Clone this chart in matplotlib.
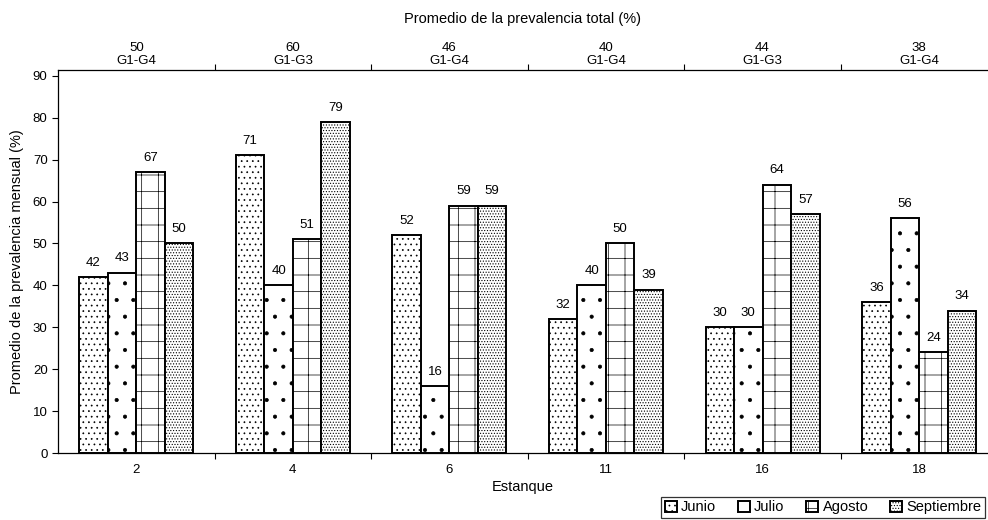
import matplotlib
matplotlib.use("Agg")
import matplotlib.pyplot as plt
import numpy as np

plt.rcParams['font.family'] = ['Liberation Sans', 'DejaVu Sans']
plt.rcParams['hatch.linewidth'] = 0.5

estanques = ['2', '4', '6', '11', '16', '18']
meses = ['Junio', 'Julio', 'Agosto', 'Septiembre']
junio = [42, 71, 52, 32, 30, 36]
julio = [43, 40, 16, 40, 30, 56]
agosto = [67, 51, 59, 50, 64, 24]
septiembre = [50, 79, 59, 39, 57, 34]
total = ['50', '60', '46', '40', '44', '38']
grupos = ['G1-G4', 'G1-G3', 'G1-G4', 'G1-G4', 'G1-G3', 'G1-G4']

series = [junio, julio, agosto, septiembre]
hatches = ['...', '.', '+', '......']

fig = plt.figure(figsize=(9.88, 5.2), dpi=100)
ax = fig.add_axes([58/988, 67/520, 930/988, 383/520])

x = np.arange(len(estanques))
w = 0.182
for i, (vals, h) in enumerate(zip(series, hatches)):
    pos = x + (i - 1.5) * w
    ax.bar(pos, vals, width=w, facecolor='white', edgecolor='black',
           linewidth=1.4, hatch=h, label=meses[i])
    for p, v in zip(pos, vals):
        ax.annotate(str(v), (p, v), xytext=(0, 6), textcoords='offset points',
                    ha='center', va='bottom', fontsize=9.5)

ax.set_xlim(-0.5, 5.44)
ax.set_ylim(0, 91.4)
ax.set_yticks(np.arange(0, 91, 10))
ax.tick_params(axis='y', labelsize=9.5, length=4, width=0.8)
ax.set_xticks(np.arange(0.5, 5.5, 1))
ax.set_xticklabels([])
ax.set_xticks(x, minor=True)
ax.set_xticklabels(estanques, minor=True, fontsize=9.5)
ax.tick_params(axis='x', which='minor', length=0, pad=8)
ax.tick_params(axis='x', which='major', length=4, width=0.8)
ax.spines['right'].set_visible(False)
ax.spines['top'].set_visible(False)
ax.spines['left'].set_linewidth(0.9)
ax.spines['bottom'].set_linewidth(0.9)
ax.set_xlabel('Estanque', fontsize=10.5, labelpad=3)
ax.set_ylabel('Promedio de la prevalencia mensual (%)', fontsize=10.5, labelpad=6)

ax2 = ax.twiny()
ax2.set_xlim(ax.get_xlim())
ax2.set_xticks(np.arange(0.5, 5.5, 1))
ax2.set_xticklabels([])
ax2.set_xticks(x, minor=True)
ax2.set_xticklabels([f'{t}\n{g}' for t, g in zip(total, grupos)], minor=True,
                    fontsize=9.5, linespacing=1.1)
ax2.tick_params(axis='x', which='minor', length=0, pad=2)
ax2.tick_params(axis='x', which='major', length=4, width=0.8)
for s in ['left', 'right', 'bottom']:
    ax2.spines[s].set_visible(False)
ax2.spines['top'].set_linewidth(0.9)
ax2.set_xlabel('Promedio de la prevalencia total (%)', fontsize=10.5, labelpad=14)

leg = fig.legend(loc='lower right', bbox_to_anchor=(0.999, 0.0), ncol=4,
                 fontsize=10.5, frameon=True, fancybox=False, edgecolor='black',
                 handlelength=0.8, handleheight=0.8, handletextpad=0.3,
                 columnspacing=1.5, borderpad=0.25, borderaxespad=0.15)
leg.get_frame().set_linewidth(0.9)

fig.savefig('out.png', dpi=100)
